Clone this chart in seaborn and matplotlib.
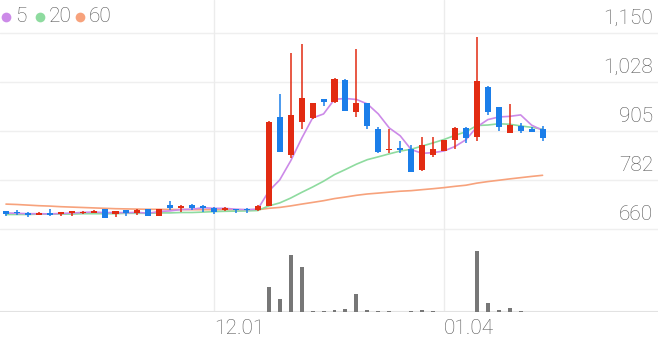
import matplotlib
matplotlib.use("Agg")
import matplotlib.pyplot as plt
import matplotlib.transforms as mtransforms
from matplotlib.lines import Line2D
import numpy as np
import pandas as pd
import seaborn as sns

# ---------------- data ----------------
opens = [706, 704, 702, 697, 701, 698, 701, 701, 702, 711, 698, 708, 702, 711, 694, 721, 713, 722, 719, 714,
         708, 711, 712, 708, 719, 940, 846, 928, 938, 985, 978, 1033, 954, 975, 912, 858, 864, 862, 808, 846,
         856, 883, 914, 892, 1015, 965, 901, 919, 912, 910]
highs = [707, 709, 703, 703, 711, 704, 707, 706, 708, 711, 706, 709, 710, 712, 712, 731, 721, 723, 720, 717,
         715, 712, 713, 721, 930, 998, 1100, 1123, 977, 986, 1038, 1035, 1110, 976, 916, 912, 881, 871, 892, 892,
         884, 915, 915, 1140, 1018, 966, 973, 925, 916, 919]
lows = [694, 696, 692, 696, 693, 693, 693, 699, 700, 689, 691, 693, 697, 694, 694, 708, 704, 709, 704, 698,
        706, 702, 702, 706, 718, 854, 838, 911, 937, 968, 977, 955, 940, 911, 850, 850, 852, 803, 807, 841,
        855, 860, 877, 882, 946, 906, 900, 900, 903, 881]
closes = [698, 700, 696, 701, 697, 704, 705, 704, 706, 689, 706, 702, 709, 694, 712, 713, 719, 713, 713, 704,
          713, 708, 708, 719, 929, 854, 946, 988, 975, 979, 1037, 956, 976, 919, 854, 862, 858, 804, 872, 862,
          883, 914, 888, 1032, 954, 916, 922, 906, 904, 889]
ma5 = [701, 700, 699, 699, 698.4, 699.6, 700.6, 702.2, 703.2, 701.6, 702, 701.4, 702.4, 700, 704.6, 706, 709.4,
       710.2, 714, 712.4, 712.4, 710.2, 709.2, 710.4, 755.4, 783.6, 831.2, 887.2, 938.4, 948.4, 985, 987, 984.6,
       973.4, 948.4, 913.4, 893.8, 859.4, 850, 851.6, 855.8, 867, 883.8, 915.8, 934.2, 940.8, 942.4, 946, 920.4,
       907.4]
ma20 = [697, 697, 697, 698, 698, 698, 698, 699, 699, 699, 699, 700, 700, 700, 701, 701, 702, 702, 703, 704.3,
        705.0, 705.4, 706.0, 706.9, 718.5, 726.0, 738.1, 752.3, 765.7, 780.2, 796.8, 809.5, 822.8, 834.1, 841.2,
        848.6, 855.6, 860.1, 868.1, 876.0, 884.5, 894.8, 903.8, 919.4, 920.7, 923.8, 922.6, 918.5, 914.9, 910.4]
ma60 = [723, 722, 720.5, 719, 718, 716.5, 715.5, 714.5, 713.5, 712.5, 711.5, 711, 710.5, 710, 710, 709.5, 709.5,
        709, 709, 709, 709, 708.5, 708.5, 709, 712.5, 714.7, 718.5, 723, 727.2, 731.5, 736.8, 740.7, 745, 748.3,
        750.5, 752.9, 755.2, 756.6, 759.1, 761.5, 764.2, 767.4, 770.2, 775.4, 779.3, 782.6, 786, 789.1, 792.2, 795]
volumes = [40, 30, 30, 20, 30, 30, 20, 20, 20, 50, 30, 20, 30, 40, 40, 40, 30, 30, 30, 40,
           30, 20, 20, 60, 2560, 1300, 5730, 4500, 160, 130, 270, 360, 1830, 200, 170, 100, 50, 100, 230, 130,
           30, 30, 30, 6130, 930, 230, 430, 130, 70, 70]
ytick_values = [1150, 1027.5, 905, 782.5, 660]
ytick_labels = ["1,150", "1,028", "905", "782", "660"]
xtick_positions = [19, 40]
xtick_labels = ["12.01", "01.04"]
legend_labels = ["5", "20", "60"]

# ---------------- style ----------------
sns.set_style("white")
plt.rcParams['font.family'] = ['Roboto', 'DejaVu Sans']

RED = '#e22b12'
BLUE = '#1b7ee9'
MA_COLORS = ['#cc8ae8', '#8edb9f', '#f7a27c']
TEXT = '#555555'
GRID = '#efefef'
FS = 15

W, H = 658, 342
fig = plt.figure(figsize=(W / 100, H / 100), dpi=100)
fig.patch.set_facecolor('white')

base_px = 312.3
ax = fig.add_axes([0, (H - base_px) / H, 1, base_px / H])
axv = fig.add_axes([0, (H - base_px) / H, 1, 67.3 / H])
axv.patch.set_alpha(0)

idx = np.arange(len(closes))
xlim = (-6 / 10.95, (W - 6) / 10.95)
ax.set_xlim(*xlim)
ax.set_ylim(1233.25 - 2.5 * base_px, 1233.25)

# grid
for v in ytick_values:
    ax.axhline(v, color=GRID, lw=1.0, zorder=0)
for p in xtick_positions:
    ax.axvline(p, color='#ececec', lw=1.0, zorder=0)

# moving averages (seaborn)
df = pd.DataFrame({'i': idx, 'ma5': ma5, 'ma20': ma20, 'ma60': ma60})
for col, c in zip(['ma60', 'ma20', 'ma5'], [MA_COLORS[2], MA_COLORS[1], MA_COLORS[0]]):
    sns.lineplot(data=df, x='i', y=col, ax=ax, color=c, lw=1.2, zorder=2)

# candles
for i, (o, h, l, c) in enumerate(zip(opens, highs, lows, closes)):
    col = RED if c >= o else BLUE
    ax.vlines(i, l, h, color=col, lw=1.1, zorder=3)
    bottom = min(o, c)
    height = max(abs(c - o), 1.5)
    ax.bar(i, height, bottom=bottom, width=0.55, color=col, linewidth=0, zorder=4)

ax.set_axis_off()

# volume (seaborn)
vdf = pd.DataFrame({'i': idx, 'vol': volumes})
sns.barplot(data=vdf, x='i', y='vol', ax=axv, native_scale=True, width=0.36,
            color='#777777', saturation=1, errorbar=None, linewidth=0)
axv.set_xlim(*xlim)
axv.set_ylim(0, 6730)
axv.axhline(0, color='#e2e2e2', lw=1.5, zorder=0)
axv.set_axis_off()

# y labels (above gridlines, right aligned)
ytrans = mtransforms.blended_transform_factory(ax.transAxes, ax.transData) + \
    mtransforms.ScaledTranslation(0, 15 / 100, fig.dpi_scale_trans)
for v, lab in zip(ytick_values, ytick_labels):
    ax.text(653 / W, v, lab, transform=ytrans, ha='right', va='center',
            fontsize=FS, color=TEXT, fontweight='light')

# x labels
xtrans = mtransforms.blended_transform_factory(ax.transData, fig.transFigure)
for p, lab in zip(xtick_positions, xtick_labels):
    ax.text(p + 0.0, (H - 329) / H, lab, transform=xtrans, ha='left', va='center',
            fontsize=FS, color=TEXT, fontweight='light', clip_on=False)

# legend
dot_x = [6, 40, 80]
txt_x = [15, 49, 89]
ly = (H - 17) / H
for dx, tx, c, lab in zip(dot_x, txt_x, MA_COLORS, legend_labels):
    fig.add_artist(Line2D([dx / W], [ly], transform=fig.transFigure, marker='o', markersize=7,
                          color=c, markeredgewidth=0, linestyle='none'))
    fig.text(tx / W, ly, lab, ha='left', va='center', fontsize=FS, color=TEXT, fontweight='light')

fig.savefig('out.png', dpi=100, facecolor='white')
